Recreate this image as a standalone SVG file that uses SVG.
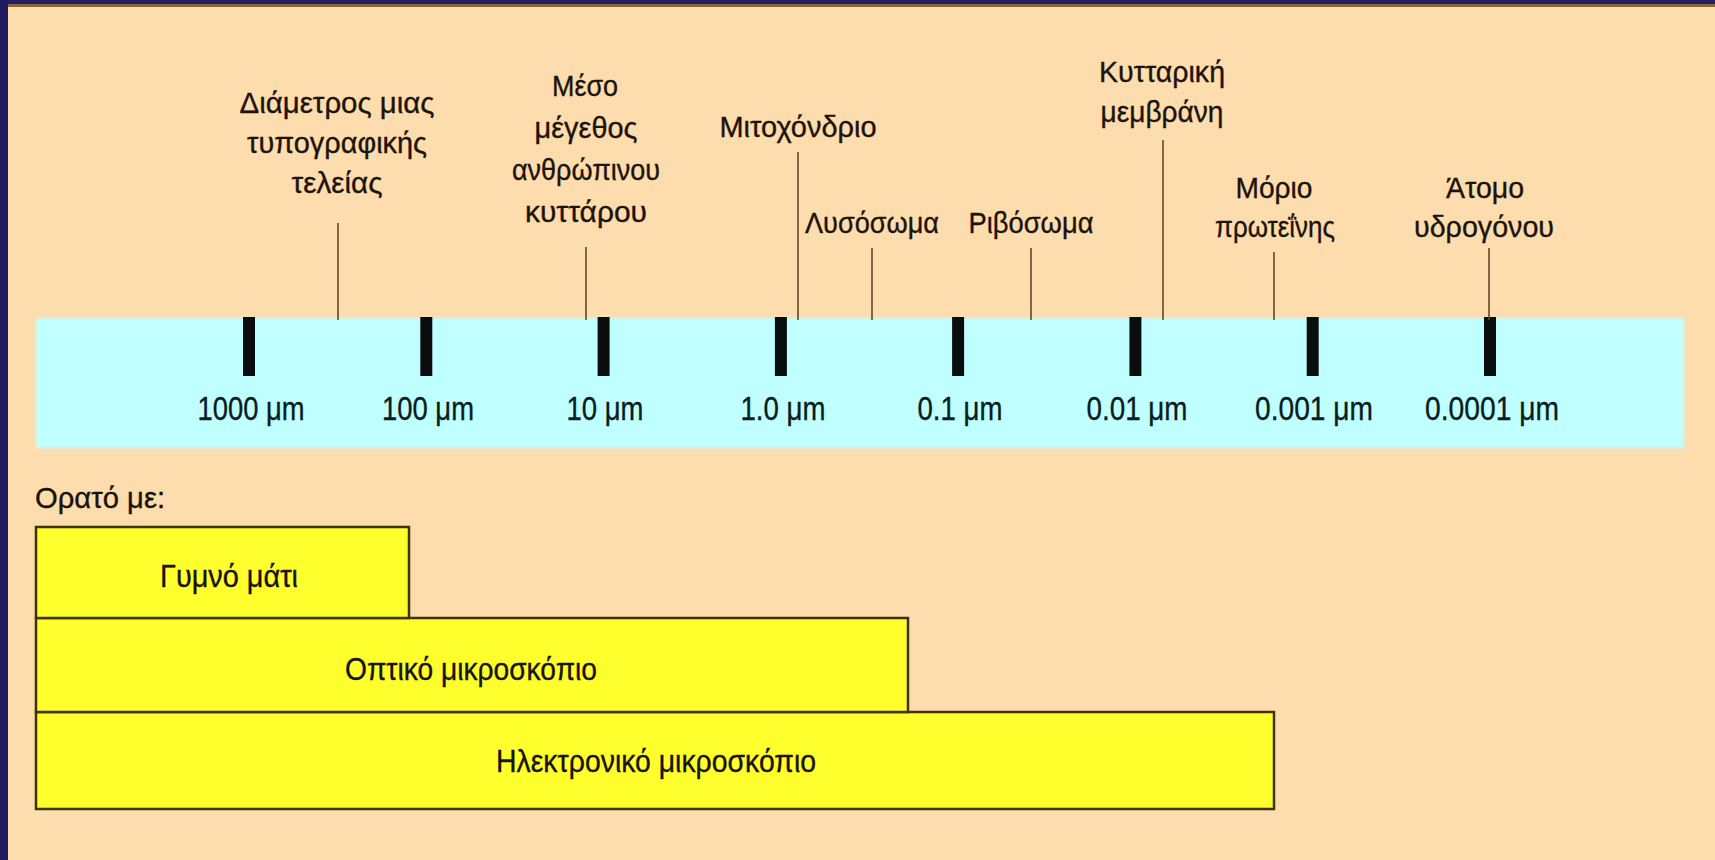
<svg xmlns="http://www.w3.org/2000/svg" width="1715" height="860" viewBox="0 0 1715 860">
<style>
.lbl{font-family:"Liberation Sans",Arial,sans-serif;font-size:30px;fill:#1c130a;stroke:#1c130a;stroke-width:0.35;text-anchor:middle}
.tk{font-family:"Liberation Sans",Arial,sans-serif;font-size:33px;fill:#0b1c1c;stroke:#0b1c1c;stroke-width:0.35;text-anchor:middle}
.bx{font-family:"Liberation Sans",Arial,sans-serif;font-size:31px;fill:#1a1206;stroke:#1a1206;stroke-width:0.35;text-anchor:middle}
.lead{stroke:#5e4a2c;stroke-width:1.6;fill:none}
.tick{fill:#0a0d0d}
.bar{fill:#ffff2e;stroke:#3f3404;stroke-width:2.5}
</style>
<defs>
<filter id="soft" x="-2%" y="-5%" width="104%" height="110%"><feGaussianBlur stdDeviation="1.5"/></filter>
</defs>
<rect width="1715" height="860" fill="#fddcae"/>
<rect x="0" y="0" width="1715" height="4" fill="#221f5f"/>
<rect x="0" y="4" width="1715" height="3" fill="#8a6638"/>
<rect x="0" y="0" width="8" height="860" fill="#1f1d5e"/>

<g id="scale">
<rect x="36" y="318" width="1648" height="130" fill="#bfffff" filter="url(#soft)"/>
<rect class="tick" x="243" y="317" width="12" height="59"/>
<rect class="tick" x="420.3" y="317" width="12" height="59"/>
<rect class="tick" x="597.6" y="317" width="12" height="59"/>
<rect class="tick" x="774.9" y="317" width="12" height="59"/>
<rect class="tick" x="952.1" y="317" width="12" height="59"/>
<rect class="tick" x="1129.4" y="317" width="12" height="59"/>
<rect class="tick" x="1306.7" y="317" width="12" height="59"/>
<rect class="tick" x="1484" y="317" width="12" height="59"/>
<text class="tk" x="251" y="420" textLength="107" lengthAdjust="spacingAndGlyphs">1000 μm</text>
<text class="tk" x="428" y="420" textLength="92" lengthAdjust="spacingAndGlyphs">100 μm</text>
<text class="tk" x="605" y="420" textLength="77" lengthAdjust="spacingAndGlyphs">10 μm</text>
<text class="tk" x="783" y="420" textLength="85" lengthAdjust="spacingAndGlyphs">1.0 μm</text>
<text class="tk" x="960" y="420" textLength="85" lengthAdjust="spacingAndGlyphs">0.1 μm</text>
<text class="tk" x="1137" y="420" textLength="101" lengthAdjust="spacingAndGlyphs">0.01 μm</text>
<text class="tk" x="1314" y="420" textLength="118" lengthAdjust="spacingAndGlyphs">0.001 μm</text>
<text class="tk" x="1492" y="420" textLength="134" lengthAdjust="spacingAndGlyphs">0.0001 μm</text>
</g>

<g id="connectors">
<line class="lead" x1="338" y1="223" x2="338" y2="320"/>
<line class="lead" x1="586" y1="247" x2="586" y2="320"/>
<line class="lead" x1="798" y1="152" x2="798" y2="320"/>
<line class="lead" x1="872" y1="248" x2="872" y2="320"/>
<line class="lead" x1="1031" y1="248" x2="1031" y2="320"/>
<line class="lead" x1="1163" y1="140" x2="1163" y2="320"/>
<line class="lead" x1="1274" y1="252" x2="1274" y2="320"/>
<line class="lead" x1="1489" y1="248" x2="1489" y2="320"/>
</g>

<g id="typo-dot">
<text class="lbl" x="337" y="113" textLength="195" lengthAdjust="spacingAndGlyphs">Διάμετρος μιας</text>
<text class="lbl" x="337" y="153" textLength="180" lengthAdjust="spacingAndGlyphs">τυπογραφικής</text>
<text class="lbl" x="337" y="193" textLength="91" lengthAdjust="spacingAndGlyphs">τελείας</text>
</g>
<g id="human-cell">
<text class="lbl" x="585" y="96" textLength="66" lengthAdjust="spacingAndGlyphs">Μέσο</text>
<text class="lbl" x="586" y="138" textLength="103" lengthAdjust="spacingAndGlyphs">μέγεθος</text>
<text class="lbl" x="586" y="180" textLength="148" lengthAdjust="spacingAndGlyphs">ανθρώπινου</text>
<text class="lbl" x="586" y="222" textLength="122" lengthAdjust="spacingAndGlyphs">κυττάρου</text>
</g>
<g id="mitochondrion">
<text class="lbl" x="798" y="137" textLength="157" lengthAdjust="spacingAndGlyphs">Μιτοχόνδριο</text>
</g>
<g id="lysosome">
<text class="lbl" x="872" y="233" textLength="134" lengthAdjust="spacingAndGlyphs">Λυσόσωμα</text>
</g>
<g id="ribosome">
<text class="lbl" x="1031" y="233" textLength="125" lengthAdjust="spacingAndGlyphs">Ριβόσωμα</text>
</g>
<g id="membrane">
<text class="lbl" x="1162" y="82" textLength="126" lengthAdjust="spacingAndGlyphs">Κυτταρική</text>
<text class="lbl" x="1162" y="122" textLength="123" lengthAdjust="spacingAndGlyphs">μεμβράνη</text>
</g>
<g id="protein">
<text class="lbl" x="1274" y="198" textLength="77" lengthAdjust="spacingAndGlyphs">Μόριο</text>
<text class="lbl" x="1275" y="237" textLength="120" lengthAdjust="spacingAndGlyphs">πρωτεΐνης</text>
</g>
<g id="hydrogen">
<text class="lbl" x="1485" y="198" textLength="78" lengthAdjust="spacingAndGlyphs">Άτομο</text>
<text class="lbl" x="1484" y="237" textLength="140" lengthAdjust="spacingAndGlyphs">υδρογόνου</text>
</g>

<g id="visible-with">
<text x="35" y="508" font-family="'Liberation Sans',Arial,sans-serif" font-size="29" fill="#1a1206" stroke="#1a1206" stroke-width="0.35" textLength="130" lengthAdjust="spacingAndGlyphs">Ορατό με:</text>
</g>
<g id="electron-microscope">
<rect class="bar" x="36" y="712" width="1238" height="97"/>
<text class="bx" x="656" y="772" textLength="320" lengthAdjust="spacingAndGlyphs">Ηλεκτρονικό μικροσκόπιο</text>
</g>
<g id="light-microscope">
<rect class="bar" x="36" y="618" width="872" height="94"/>
<text class="bx" x="471" y="680" textLength="252" lengthAdjust="spacingAndGlyphs">Οπτικό μικροσκόπιο</text>
</g>
<g id="naked-eye">
<rect class="bar" x="36" y="527" width="373" height="91"/>
<text class="bx" x="229" y="587" textLength="138" lengthAdjust="spacingAndGlyphs">Γυμνό μάτι</text>
</g>
</svg>
